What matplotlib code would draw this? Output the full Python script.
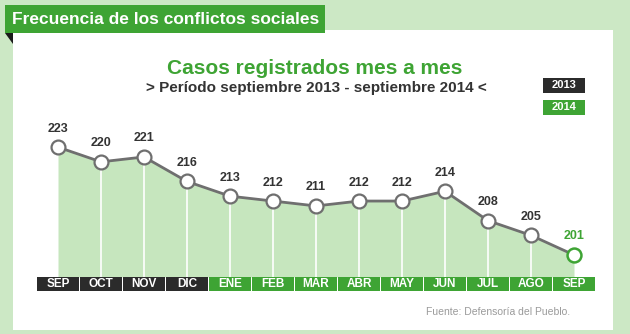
import matplotlib.pyplot as plt
from matplotlib.patches import Rectangle, Polygon
import matplotlib.transforms as mtransforms

plt.rcParams["font.family"] = ["Liberation Sans", "DejaVu Sans"]

meses = ["SEP", "OCT", "NOV", "DIC", "ENE", "FEB", "MAR", "ABR", "MAY", "JUN", "JUL", "AGO", "SEP"]
anios = [2013, 2013, 2013, 2013, 2014, 2014, 2014, 2014, 2014, 2014, 2014, 2014, 2014]
casos = [223, 220, 221, 216, 213, 212, 211, 212, 212, 214, 208, 205, 201]

BG = "#cce8c5"
GREEN = "#3ea434"
DARK = "#2b2b2b"
FILL = "#c6e6be"
LINE = "#6f6f6f"

W, H = 630, 334
fig = plt.figure(figsize=(W / 100, H / 100), dpi=100)
fig.patch.set_facecolor(BG)


def px(x, y):
    # pixel coords (top-left origin) -> figure fraction
    return x / W, 1 - y / H


def box(x, y, w, h, color, z=-1):
    # rectangle from pixel top-left corner
    fx, fy = px(x, y + h)
    fig.patches.append(Rectangle((fx, fy), w / W, h / H, transform=fig.transFigure,
                                 facecolor=color, edgecolor="none", zorder=z))


# white panel, banner and fold
box(13, 30, 600, 300, "white", z=-2)
box(5, 5, 320, 28, GREEN)
fig.patches.append(Polygon([px(5, 33), px(13, 33), px(13, 44)], closed=True,
                           transform=fig.transFigure, facecolor="#1a1a1a", edgecolor="none", zorder=-1))
fig.text(*px(12, 19), "Frecuencia de los conflictos sociales", color="white",
         fontsize=12.5, fontweight="bold", ha="left", va="center")

fig.text(*px(315, 68), "Casos registrados mes a mes", color=GREEN,
         fontsize=15, fontweight="bold", ha="center", va="center")
fig.text(*px(316, 88), "> Período septiembre 2013 - septiembre 2014 <", color="#333333",
         fontsize=11, fontweight="bold", ha="center", va="center")

# legend boxes
for yy, lab, col in [(78, "2013", DARK), (100, "2014", GREEN)]:
    box(543, yy, 42, 15, col)
    fig.text(*px(564, yy + 7.5), lab, color="white", fontsize=8, fontweight="bold",
             ha="center", va="center")

fig.text(*px(570, 312), "Fuente: Defensoría del Pueblo.", color="#9a9a9a",
         fontsize=7.5, ha="right", va="center")

# chart axes
ax_l, ax_b = px(36.5, 277)
ax = fig.add_axes([ax_l, ax_b, 559 / W, 147 / H], zorder=2)
ax.set_xlim(-0.5, 12.5)
ax.set_ylim(196.5, 226.5)
ax.axis("off")

xs = list(range(len(casos)))
ax.fill_between(xs, casos, 196.5, color=FILL, linewidth=0, zorder=1)
ax.vlines(xs[1:-1], 196.5, casos[1:-1], color="white", linewidth=1.2, zorder=2)
ax.plot(xs, casos, color=LINE, linewidth=2, zorder=3)
ax.plot(xs[:-1], casos[:-1], "o", markersize=10, markerfacecolor="white",
        markeredgecolor=LINE, markeredgewidth=1.6, zorder=4)
ax.plot(xs[-1], casos[-1], "o", markersize=10, markerfacecolor="white",
        markeredgecolor=GREEN, markeredgewidth=1.8, zorder=4)

for x, v in zip(xs, casos):
    ax.annotate(str(v), (x, v), xytext=(0, 9), textcoords="offset points",
                ha="center", va="bottom", fontsize=9, fontweight="bold",
                color=GREEN if x == xs[-1] else "#333333")

# month label boxes
trans = mtransforms.blended_transform_factory(ax.transData, ax.transAxes)
for x, m, a in zip(xs, meses, anios):
    col = DARK if a == 2013 else GREEN
    ax.add_patch(Rectangle((x - 0.48, -0.097), 0.96, 0.094, transform=trans,
                           facecolor=col, edgecolor="none", clip_on=False))
    ax.text(x, -0.05, m, transform=trans, ha="center", va="center",
            color="white", fontsize=8.5, fontweight="bold")

fig.savefig("out.png", dpi=100, facecolor=BG)
